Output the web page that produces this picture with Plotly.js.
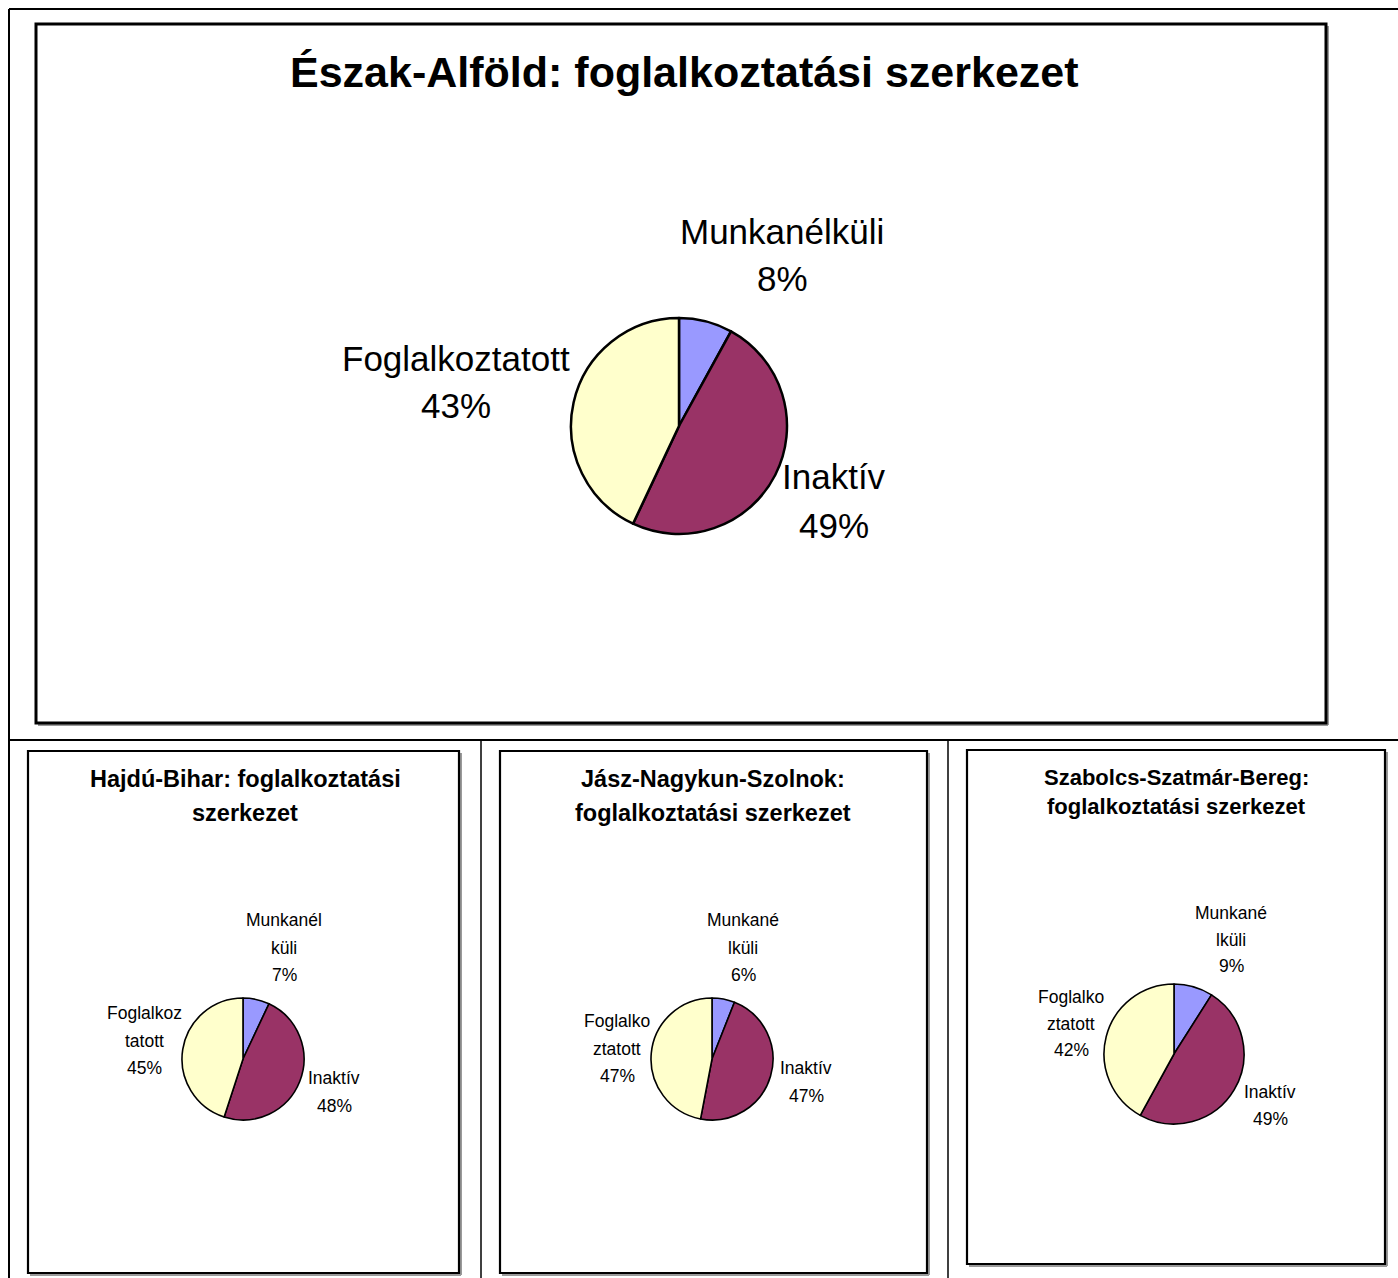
<!DOCTYPE html>
<html><head><meta charset="utf-8">
<script src="https://cdn.plot.ly/plotly-3.0.1.min.js"></script>
<style>html,body{margin:0;padding:0;background:#fff;overflow:hidden}</style>
</head><body>
<div id="chart" style="width:1398px;height:1278px"></div>
<script>
// ---------- DATA ----------
const categories = ["Munkanélküli", "Inaktív", "Foglalkoztatott"];
const sliceColors = ["#9999FF", "#993366", "#FFFFCC"];

const regionTitle = ["Észak-Alföld: foglalkoztatási szerkezet"];
const regionValues = [8, 49, 43];
const regionLabels = [["Munkanélküli"], ["Inaktív"], ["Foglalkoztatott"]];

const hajduTitle = ["Hajdú-Bihar: foglalkoztatási", "szerkezet"];
const hajduValues = [7, 48, 45];
const hajduLabels = [["Munkanél", "küli"], ["Inaktív"], ["Foglalkoz", "tatott"]];

const jaszTitle = ["Jász-Nagykun-Szolnok:", "foglalkoztatási szerkezet"];
const jaszValues = [6, 47, 47];
const jaszLabels = [["Munkané", "lküli"], ["Inaktív"], ["Foglalko", "ztatott"]];

const szabolcsTitle = ["Szabolcs-Szatmár-Bereg:", "foglalkoztatási szerkezet"];
const szabolcsValues = [9, 49, 42];
const szabolcsLabels = [["Munkané", "lküli"], ["Inaktív"], ["Foglalko", "ztatott"]];

// ---------- LAYOUT / STYLE ----------
const W = 1398, H = 1278;
const FONT = "Liberation Sans, Arial, sans-serif";
const px = x => x / W;
const py = y => 1 - y / H;

const charts = [
  { values: regionValues, labels: regionLabels, title: regionTitle,
    cx: 679, cy: 426, r: 108, lw: 2.5,
    titleX: 684, titleY: [72], titleSize: 43,
    labelSize: 35, lineGap: 48,
    labelPos: [[782, 231], [834, 477], [456, 358]] },
  { values: hajduValues, labels: hajduLabels, title: hajduTitle,
    cx: 243, cy: 1059, r: 61, lw: 1.6,
    titleX: 245, titleY: [779, 813], titleSize: 23.5,
    labelSize: 17.5, lineGap: 27.5,
    labelPos: [[284, 920], [334, 1078], [144, 1013]] },
  { values: jaszValues, labels: jaszLabels, title: jaszTitle,
    cx: 712, cy: 1059, r: 61, lw: 1.6,
    titleX: 713, titleY: [779, 813], titleSize: 23.5,
    labelSize: 17.5, lineGap: 27.5,
    labelPos: [[743, 920], [806, 1068], [617, 1021]] },
  { values: szabolcsValues, labels: szabolcsLabels, title: szabolcsTitle,
    cx: 1174, cy: 1054, r: 70, lw: 1.6,
    titleX: 1176, titleY: [777, 806], titleSize: 22,
    labelSize: 17.5, lineGap: 26.5,
    labelPos: [[1231, 913], [1270, 1092], [1071, 997]] }
];

const traces = [];
const annotations = [];

charts.forEach(c => {
  traces.push({
    type: "pie",
    values: c.values,
    labels: categories,
    sort: false,
    direction: "clockwise",
    rotation: 0,
    marker: { colors: sliceColors, line: { color: "#000000", width: c.lw } },
    textinfo: "none",
    hoverinfo: "label+percent",
    showlegend: false,
    domain: { x: [px(c.cx - c.r), px(c.cx + c.r)], y: [py(c.cy + c.r), py(c.cy - c.r)] }
  });
  c.title.forEach((t, i) => {
    annotations.push({
      xref: "paper", yref: "paper", x: px(c.titleX), y: py(c.titleY[i]),
      text: "<b>" + t + "</b>", showarrow: false, xanchor: "center", yanchor: "middle",
      font: { family: FONT, size: c.titleSize, color: "#000000" }
    });
  });
  c.labels.forEach((lab, k) => {
    const lines = lab.concat([c.values[k] + "%"]);
    lines.forEach((ln, j) => {
      annotations.push({
        xref: "paper", yref: "paper",
        x: px(c.labelPos[k][0]), y: py(c.labelPos[k][1] + j * c.lineGap),
        text: ln, showarrow: false, xanchor: "center", yanchor: "middle",
        font: { family: FONT, size: c.labelSize, color: "#000000" }
      });
    });
  });
});

function line(x0, y0, x1, y1, w, col) {
  return { type: "line", xref: "paper", yref: "paper",
    x0: px(x0), y0: py(y0), x1: px(x1), y1: py(y1),
    line: { color: col || "#000000", width: w } };
}
function box(x0, y0, x1, y1, w) {
  return [
    line(x1 + 2, y0 + 2, x1 + 2, y1 + 2, 2, "#9a9a9a"),
    line(x0 + 2, y1 + 2, x1 + 2, y1 + 2, 2, "#9a9a9a"),
    { type: "rect", xref: "paper", yref: "paper",
      x0: px(x0), y0: py(y1), x1: px(x1), y1: py(y0),
      line: { color: "#000000", width: w }, fillcolor: "rgba(0,0,0,0)" }
  ];
}

const shapes = [
  line(9, 9, 1398, 9, 2),
  line(9, 9, 9, 1278, 2),
  line(9, 740, 1398, 740, 2),
  line(481, 740, 481, 1278, 1.5),
  line(948, 740, 948, 1278, 1.5),
  ...box(36, 24, 1326, 723, 3),
  ...box(28, 751, 459, 1273, 2.2),
  ...box(500, 751, 927, 1273, 2.2),
  ...box(967, 750, 1385, 1264, 2.2)
];

const layout = {
  width: W, height: H,
  margin: { l: 0, r: 0, t: 0, b: 0 },
  paper_bgcolor: "#ffffff",
  plot_bgcolor: "#ffffff",
  showlegend: false,
  annotations: annotations,
  shapes: shapes,
  font: { family: FONT }
};

Plotly.newPlot("chart", traces, layout, { displayModeBar: false, staticPlot: true });
</script>
</body></html>
